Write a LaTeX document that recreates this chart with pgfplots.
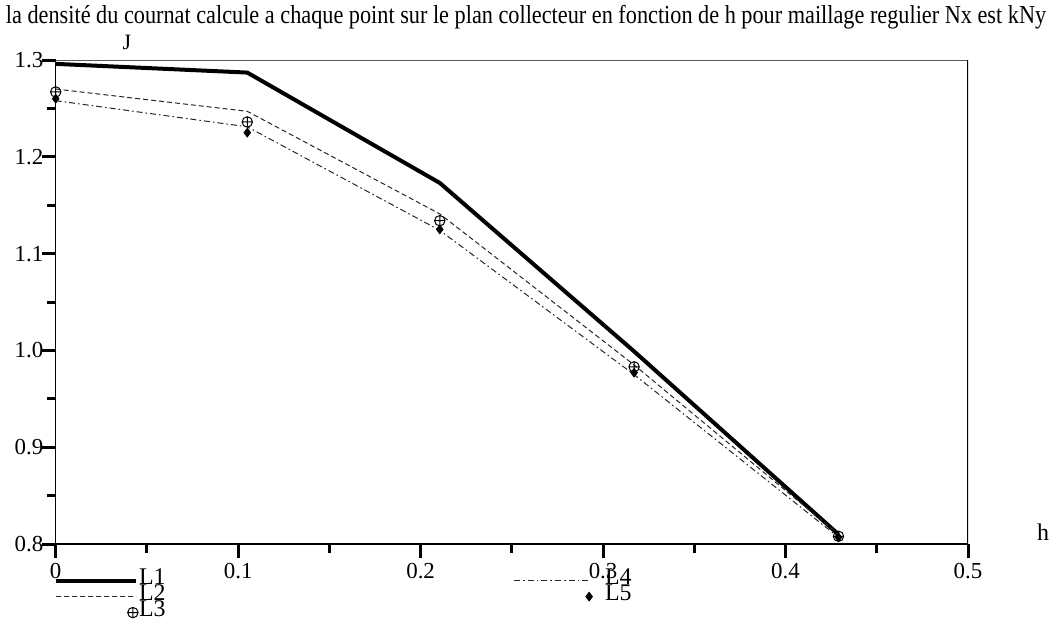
\documentclass[border=0pt]{standalone}
\usepackage{fontspec}
\setmainfont{Liberation Serif}
\usepackage{pgfplots}
\pgfplotsset{compat=1.18}
\pgfplotsset{
  legline/.style 2 args={legend image code/.code={\draw[##1] (0,0) -- (#1,0); \path[draw=none,fill=none] (0,0) -- (#2,0);}},
  legmark/.style 2 args={legend image code/.code={\draw[##1] plot coordinates {(#1,0)}; \path[draw=none,fill=none] (0,0) -- (#2,0);}},
}
\begin{document}
\begin{tikzpicture}[x=1bp,y=1bp]
\begin{axis}[
  at={(27.85bp,39bp)}, anchor=south west,
  scale only axis, width=456.15bp, height=242bp,
  xmin=0, xmax=0.5, ymin=0.8, ymax=1.3,
  axis x line*=bottom, axis y line*=left,
  xtick={0,0.1,0.2,0.3,0.4,0.5},
  xticklabels={0,0.1,0.2,0.3,0.4,0.5},
  minor xtick={0.05,0.15,0.25,0.35,0.45},
  ytick={0.8,0.9,1.0,1.1,1.2,1.3},
  yticklabels={0.8,0.9,1.0,1.1,1.2,1.3},
  minor ytick={0.85,0.95,1.05,1.15,1.25},
  tick align=outside,
  major tick length=7bp, minor tick length=4.5bp,
  every tick/.append style={black, line width=1.5bp},
  every major tick/.append style={black, line width=1.5bp},
  every minor tick/.append style={black, line width=1.5bp},
  axis line style={black, line width=0.7bp, -},
  /pgf/number format/assume math mode=true,
  ticklabel style={font=\fontsize{11.5}{12}\selectfont},
  yticklabel style={inner sep=0pt, anchor=east, xshift=1bp},
  xticklabel style={inner sep=0pt, anchor=north, yshift=-2.5bp},
  legend columns=2,
  legend style={draw=none, fill=none, at={(-0.009,-0.05)}, anchor=north west,
    font=\fontsize{12}{12}\selectfont,
    nodes={inner sep=0pt, text height=6bp, text depth=2bp, anchor=west},
    row sep=0pt},
  /tikz/every odd column/.append style={column sep=0.5bp},
  /tikz/every even column/.append style={column sep=174bp},
  legend cell align=left,
]
\draw[black!65, line width=1bp] (rel axis cs:0,1) -- (rel axis cs:1,1);
\draw[black, line width=0.8bp] (rel axis cs:1,0) -- (rel axis cs:1,1);
% L1
\addplot[black, line width=2bp, legline={40bp}{40bp}]
  coordinates {(0,1.296) (0.105,1.287) (0.2105,1.173) (0.317,0.999) (0.429,0.810)};
\addlegendentry{L1}
% L4
\addplot[black!85, line width=0.5bp, dash pattern=on 3bp off 1.5bp on 0.8bp off 1.5bp, legline={37.5bp}{45bp}]
  coordinates {(0,1.258) (0.105,1.231) (0.2105,1.124) (0.317,0.975) (0.429,0.807)};
\addlegendentry{L4}
% L2
\addplot[black!85, line width=0.5bp, dash pattern=on 2.5bp off 1.5bp, legline={40bp}{40bp}]
  coordinates {(0,1.270) (0.105,1.247) (0.2105,1.141) (0.317,0.985) (0.429,0.810)};
\addlegendentry{L2}
% L5
\addplot[only marks, black, mark=diamond*, mark size=2.2bp, legmark={37.5bp}{45bp}]
  coordinates {(0,1.260) (0.105,1.225) (0.2105,1.125) (0.317,0.977) (0.429,0.807)};
\addlegendentry{L5}
% L3
\addplot[only marks, black, mark=oplus, mark size=2.6bp, mark options={line width=0.5bp, fill=white}, legmark={38.5bp}{40bp}]
  coordinates {(0,1.267) (0.105,1.236) (0.2105,1.134) (0.317,0.983) (0.429,0.808)};
\addlegendentry{L3}
\end{axis}
\node[anchor=base, inner sep=0pt] at (263,299.5)
  {\resizebox{520bp}{\height}{\fontsize{13}{14}\selectfont la densité du cournat calcule a chaque point sur le plan collecteur en fonction de h pour maillage regulier Nx est kNy}};
\node[anchor=base, inner sep=0pt, font=\fontsize{11}{12}\selectfont] at (63.5,286.5) {J};
\node[anchor=base, inner sep=0pt, font=\fontsize{12}{12}\selectfont] at (521.5,41) {h};
\pgfresetboundingbox
\useasboundingbox (0,0) rectangle (526,311);
\end{tikzpicture}
\end{document}
